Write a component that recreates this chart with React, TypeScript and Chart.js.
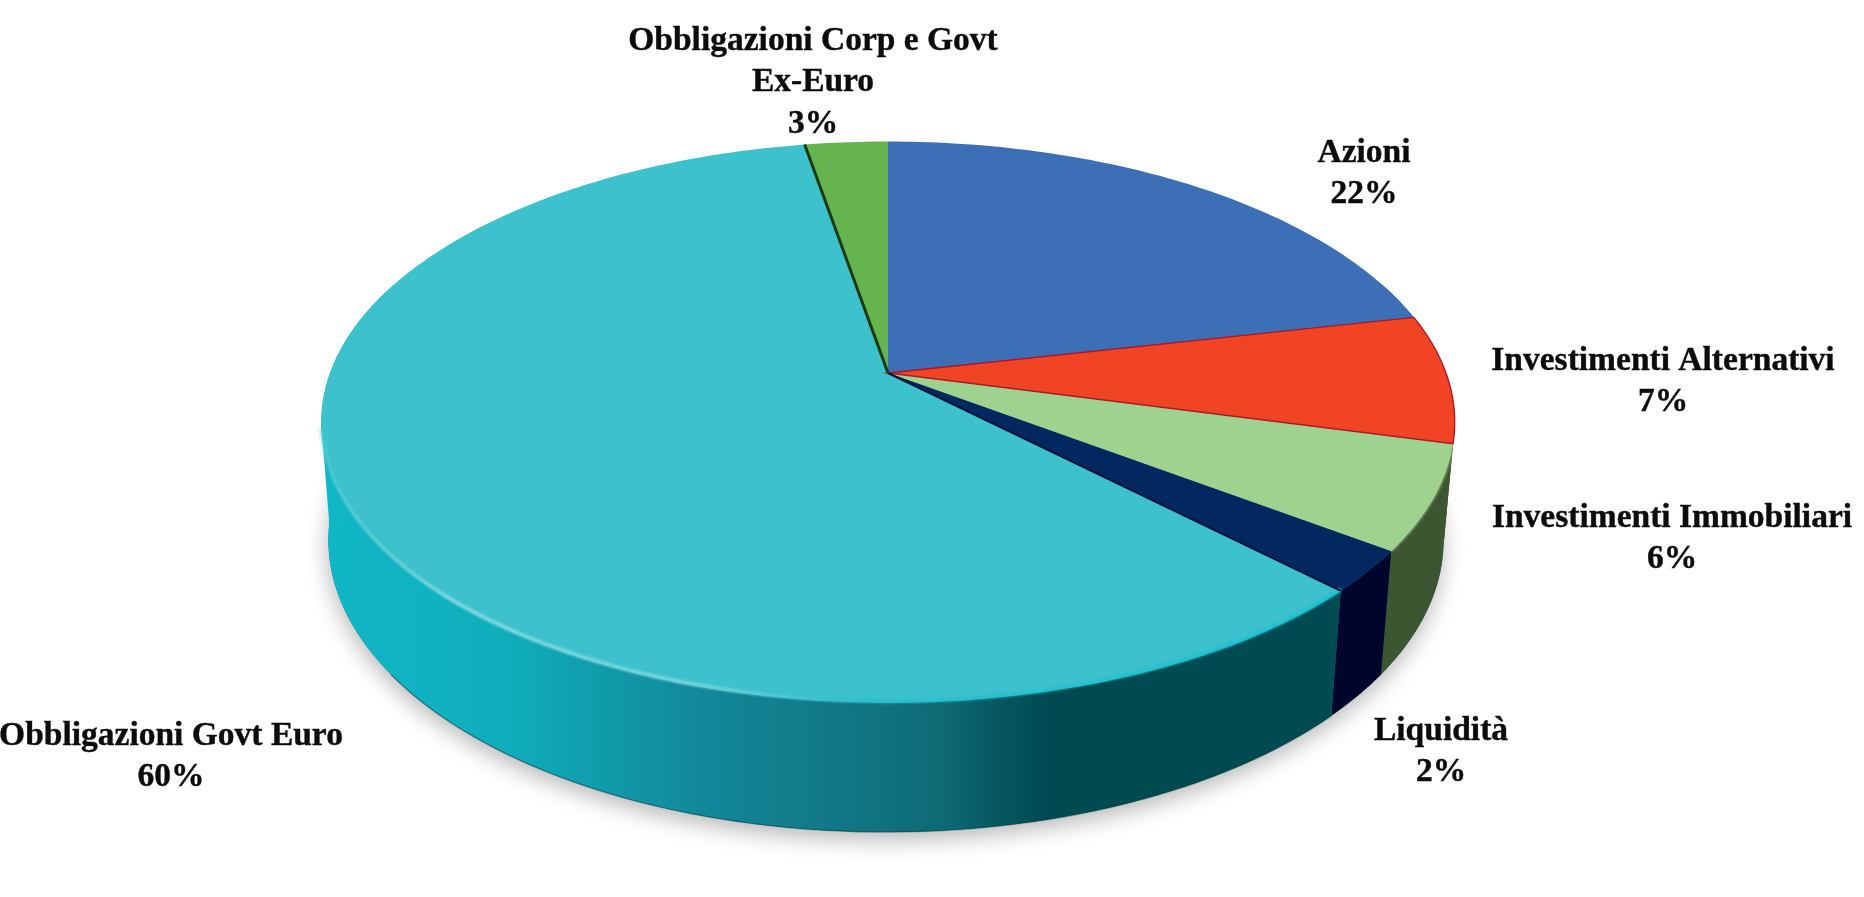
import React, { useEffect, useRef } from "react";
import { Chart, registerables } from "chart.js";

Chart.register(...registerables);

const categories = [
  "Azioni",
  "Investimenti Alternativi",
  "Investimenti Immobiliari",
  "Liquidità",
  "Obbligazioni Govt Euro",
  "Obbligazioni Corp e Govt\nEx-Euro",
];
const values = [21.6, 7.4, 6, 2.4, 59.8, 2.8];
const topColors = ["#3d6fb6", "#f14424", "#9fd18f", "#02285f", "#3dc1cc", "#66b450"];
const wallColors = ["#2c5288", "#8f2412", "#3c5631", "#00052b", "#0a7f8c", "#3c6e2e"];

// layout of each label: centre x, centre y of its first line
const labelX = [1364, 1663, 1672, 1441, 171, 813];
const labelY = [153, 361, 518, 731, 736, 41];
const LINE = 41.5;

const W = 1864;
const H = 897;
const APEX_X = 888;
const APEX_Y = 373;
const RX = 558;
const RY = 272;
const K = -0.175;
const BASE_X = 886;
const BASE_Y = 489;
const BASE_RX = 549;
const BASE_RY = 283;

const top = (a: number): [number, number] => {
  const u = Math.cos(a);
  const v = Math.sin(a);
  const w = 1 + K * v;
  return [APEX_X + (RX * u) / w, APEX_Y + (RY * v) / w];
};
const base = (a: number): [number, number] => {
  const u = Math.cos(a);
  const v = Math.sin(a);
  const w = 1 + K * v;
  return [BASE_X + (BASE_RX * u) / w, BASE_Y + (BASE_RY * v) / w];
};

const STEP = Math.PI / 180;
const trace = (ctx: CanvasRenderingContext2D, f: (a: number) => [number, number], a: number, b: number, move: boolean) => {
  const n = Math.max(1, Math.ceil(Math.abs(b - a) / STEP));
  for (let i = 0; i <= n; i++) {
    const [x, y] = f(a + ((b - a) * i) / n);
    if (i === 0 && move) ctx.moveTo(x, y);
    else ctx.lineTo(x, y);
  }
};

const pie3d = {
  id: "pie3d",
  beforeDatasetsDraw(chart: any) {
    const ctx: CanvasRenderingContext2D = chart.ctx;
    const arcs = chart.getDatasetMeta(0).data;
    ctx.save();

    // soft shadow under the disc
    ctx.save();
    ctx.shadowColor = "rgba(0,0,0,0.28)";
    ctx.shadowBlur = 22;
    ctx.shadowOffsetX = -1;
    ctx.shadowOffsetY = 8;
    ctx.fillStyle = "#0a7f8c";
    ctx.beginPath();
    trace(ctx, base, 0, Math.PI * 2, true);
    ctx.closePath();
    ctx.fill();
    ctx.restore();

    // walls
    const lo = -0.35;
    const hi = Math.PI + 0.35;
    arcs.forEach((arc: any, i: number) => {
      const s = Math.max(arc.startAngle, lo);
      const e = Math.min(arc.endAngle, hi);
      if (e <= s) return;
      let fill: any = wallColors[i];
      if (i === 4) {
        const g = ctx.createLinearGradient(330, 0, 1340, 0);
        const stop = (x: number, c: string) => g.addColorStop((x - 330) / 1010, c);
        stop(330, "#10b6c6");
        stop(500, "#10aebd");
        stop(600, "#0f9cab");
        stop(700, "#11889a");
        stop(800, "#127c8b");
        stop(900, "#0f707c");
        stop(950, "#0d6974");
        stop(1000, "#06565f");
        stop(1050, "#004a52");
        stop(1340, "#004a52");
        fill = g;
      }
      ctx.fillStyle = fill;
      ctx.beginPath();
      trace(ctx, top, s, e, true);
      trace(ctx, base, e, s, false);
      ctx.closePath();
      ctx.fill();
    });

    // left silhouette: straight edge from the rim down to the base
    const [tx, ty] = top(Math.PI - 0.18);
    const [bx, by] = base(Math.PI - 0.12);
    ctx.fillStyle = "#10b6c6";
    ctx.beginPath();
    ctx.moveTo(tx, ty);
    ctx.lineTo(bx, by);
    ctx.lineTo(bx + 60, by);
    ctx.lineTo(tx + 60, ty);
    ctx.closePath();
    ctx.fill();

    // dark lower edge of the large wall
    ctx.strokeStyle = "rgba(0,60,70,0.45)";
    ctx.lineWidth = 1.5;
    ctx.beginPath();
    trace(ctx, base, arcs[4].startAngle, Math.PI * 0.8, true);
    ctx.stroke();

    // top face
    arcs.forEach((arc: any) => {
      ctx.fillStyle = arc.options.backgroundColor;
      ctx.beginPath();
      ctx.moveTo(APEX_X, APEX_Y);
      trace(ctx, top, arc.startAngle, arc.endAngle, false);
      ctx.closePath();
      ctx.fill();
    });

    // lit rim of the large slice
    const teal = arcs[4];
    const rim = ctx.createLinearGradient(320, 0, 1340, 0);
    const rimStop = (x: number, c: string) => rim.addColorStop((x - 320) / 1020, c);
    rimStop(320, "rgba(90,205,212,0.45)");
    rimStop(450, "rgba(130,218,222,0.9)");
    rimStop(700, "rgba(125,215,220,0.85)");
    rimStop(850, "rgba(40,190,205,0.8)");
    rimStop(1340, "rgba(25,195,210,0.9)");
    ctx.save();
    ctx.filter = "blur(1px)";
    ctx.strokeStyle = rim;
    ctx.lineWidth = 4;
    ctx.beginPath();
    trace(ctx, (a) => { const [x, y] = top(a); return [x, y - 1.5]; }, teal.startAngle, Math.PI - 0.2, true);
    ctx.stroke();

    // soft lit rim of the light green slice
    ctx.strokeStyle = "rgba(170,215,150,0.7)";
    ctx.lineWidth = 2;
    ctx.beginPath();
    trace(ctx, top, arcs[2].startAngle + 0.02, arcs[2].endAngle, true);
    ctx.stroke();
    ctx.restore();

    // dark outline of the red slice
    const red = arcs[1];
    ctx.strokeStyle = "#a8182a";
    ctx.lineWidth = 1.3;
    ctx.beginPath();
    ctx.moveTo(APEX_X, APEX_Y);
    trace(ctx, top, red.startAngle, red.endAngle, false);
    ctx.closePath();
    ctx.stroke();

    // dark seams
    const seam = (a: number, color: string, width: number) => {
      const [x, y] = top(a);
      ctx.strokeStyle = color;
      ctx.lineWidth = width;
      ctx.beginPath();
      ctx.moveTo(APEX_X, APEX_Y);
      ctx.lineTo(x, y);
      ctx.stroke();
    };
    seam(teal.startAngle, "#01163c", 2);
    seam(teal.endAngle, "#1c3a12", 3);
    ctx.restore();

    // the datasets are fully drawn here
    return false;
  },
  afterDraw(chart: any) {
    const ctx: CanvasRenderingContext2D = chart.ctx;
    ctx.save();
    ctx.filter = "blur(0.5px)";
    ctx.fillStyle = "#0c0c0c";
    ctx.strokeStyle = "#0c0c0c";
    ctx.lineWidth = 0.4;
    ctx.font = 'bold 33.5px "Liberation Serif", serif';
    ctx.textAlign = "center";
    ctx.textBaseline = "middle";
    categories.forEach((c, i) => {
      const lines = [...c.split("\n"), `${Math.round(values[i])}%`];
      lines.forEach((t, j) => {
        ctx.fillText(t, labelX[i], labelY[i] + j * LINE);
        ctx.strokeText(t, labelX[i], labelY[i] + j * LINE);
      });
    });
    ctx.restore();
  },
};

export default function App() {
  const ref = useRef<HTMLCanvasElement>(null);
  useEffect(() => {
    const chart = new Chart(ref.current as HTMLCanvasElement, {
      type: "pie",
      data: {
        labels: categories,
        datasets: [{ data: values, backgroundColor: topColors, borderWidth: 0 }],
      },
      options: {
        animation: false,
        responsive: false,
        plugins: { legend: { display: false }, tooltip: { enabled: false } },
      },
      plugins: [pie3d],
    } as any);
    return () => chart.destroy();
  }, []);
  return (
    <div style={{ position: "absolute", left: 0, top: 0, width: W, height: H, background: "#fff" }}>
      <canvas ref={ref} width={W} height={H} style={{ display: "block" }} />
    </div>
  );
}
